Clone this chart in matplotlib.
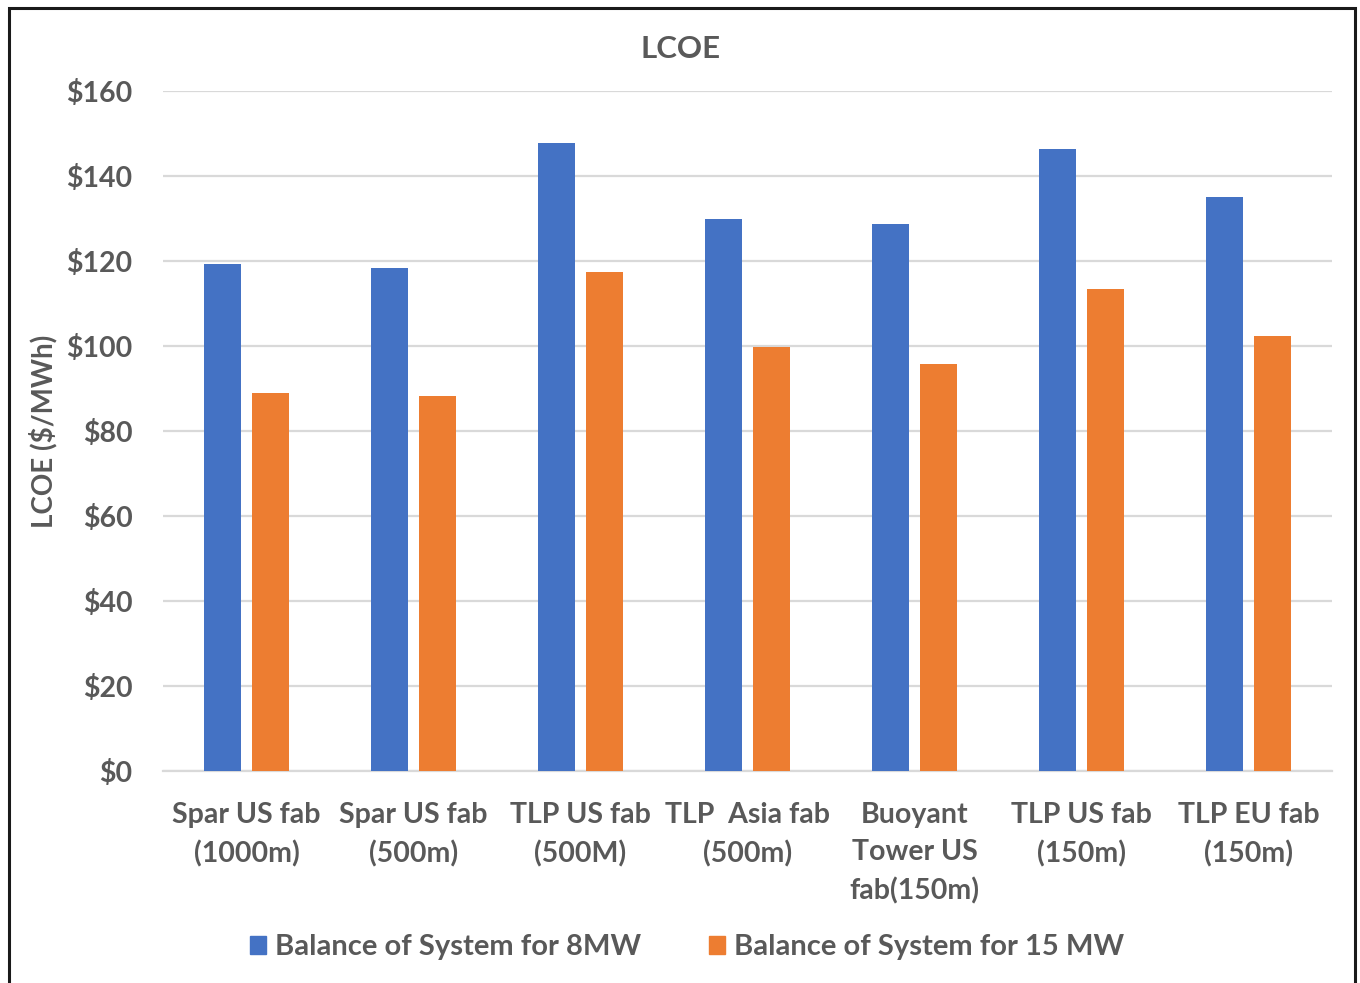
import matplotlib
matplotlib.use("Agg")
import matplotlib.pyplot as plt
from matplotlib.patches import Rectangle, Patch
import numpy as np

plt.rcParams['font.family'] = ['Lato', 'DejaVu Sans']

categories = [
    "Spar US fab\n(1000m)",
    "Spar US fab\n(500m)",
    "TLP US fab\n(500M)",
    "TLP  Asia fab\n(500m)",
    "Buoyant\nTower US\nfab(150m)",
    "TLP US fab\n(150m)",
    "TLP EU fab\n(150m)",
]
series_names = ["Balance of System for 8MW", "Balance of System for 15 MW"]
bos_8mw = [119.2, 118.4, 147.8, 130.0, 128.6, 146.3, 135.1]
bos_15mw = [88.9, 88.2, 117.5, 99.7, 95.7, 113.4, 102.4]
yticks = [0, 20, 40, 60, 80, 100, 120, 140, 160]

BLUE = "#4472C4"
ORANGE = "#ED7D31"
TEXT = "#595959"
GRID = "#D9D9D9"
FS = 20.5

fig = plt.figure(figsize=(13.6, 9.83), dpi=100)
ax = fig.add_axes([163 / 1360, 1 - 771 / 983, (1332 - 163) / 1360, (771 - 91) / 983])

x = np.arange(len(categories))
w = 0.22
off = 0.144
ax.bar(x - off, bos_8mw, w, color=BLUE, label=series_names[0], zorder=3)
ax.bar(x + off, bos_15mw, w, color=ORANGE, label=series_names[1], zorder=3)

ax.set_xlim(-0.5, len(categories) - 0.5)
ax.set_ylim(0, 160)
ax.set_yticks(yticks)
ax.set_yticklabels([f"${v}" for v in yticks], fontsize=FS, fontweight='bold', color=TEXT)
ax.set_xticks(x)
ax.set_xticklabels(categories, fontsize=FS, fontweight='bold', color=TEXT, linespacing=1.56)
ax.tick_params(axis='both', length=0)
ax.tick_params(axis='y', pad=22)
ax.tick_params(axis='x', pad=22)

ax.grid(axis='y', color=GRID, linewidth=1.6, zorder=0)
for s in ['top', 'right', 'left']:
    ax.spines[s].set_visible(False)
ax.spines['bottom'].set_color(GRID)
ax.spines['bottom'].set_linewidth(1.6)

ax.set_ylabel("LCOE ($/MWh)", fontsize=FS - 0.5, fontweight='bold', color=TEXT)
ax.yaxis.set_label_coords(-0.0907, 0.5)

fig.text(681 / 1360, 1 - 49 / 983, "LCOE", fontsize=22.5, fontweight='bold',
         color=TEXT, ha='center', va='center')

handles = [Patch(color=BLUE), Patch(color=ORANGE)]
leg = fig.legend(handles, series_names, loc='center', bbox_to_anchor=(687 / 1360, 1 - 947 / 983),
                 ncol=2, frameon=False, handlelength=0.56, handleheight=0.56,
                 handletextpad=0.32, columnspacing=2.3,
                 prop={'family': 'Lato', 'weight': 'bold', 'size': 21})
for t in leg.get_texts():
    t.set_color(TEXT)

# outer frame
fig.patches.append(Rectangle((9 / 1360, -0.01), (1355 - 9) / 1360, 1 - 8 / 983 + 0.01,
                             transform=fig.transFigure, fill=False,
                             edgecolor="#1a1a1a", linewidth=2.2))

fig.savefig("out.png", dpi=100)
